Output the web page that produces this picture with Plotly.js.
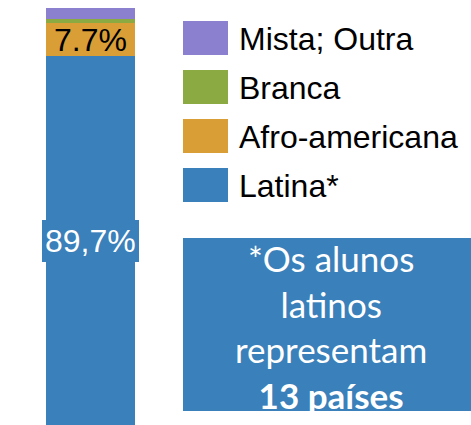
<!DOCTYPE html>
<html>
<head>
<meta charset="utf-8">
<script src="https://cdn.plot.ly/plotly-3.0.1.min.js"></script>
<style>html,body{margin:0;padding:0;background:#fff;}#chart{width:471px;height:425px;}</style>
</head>
<body>
<div id="chart"></div>
<script>
const categories = ['Alunos'];
const seriesNames = ['Latina*', 'Afro-americana', 'Branca', 'Mista; Outra'];
const seriesValues = [89.7, 7.7, 0.9, 2.6];
const seriesLabels = ['89,7%', '7.7%', '', ''];
const seriesColors = ['#3A80BA', '#DA9E37', '#8CAA42', '#8B80D0'];
const noteLines = ['*Os alunos', 'latinos', 'representam', '<b>13 países</b>'];

const W = 471, H = 425, T = 8;
const total = seriesValues.reduce((a, b) => a + b, 0);
const yBottom = 3.7;

const traces = seriesNames.map((name, i) => ({
  type: 'bar',
  name: name,
  x: categories,
  y: [seriesValues[i]],
  marker: { color: seriesColors[i], line: { width: 0 } },
  showlegend: false,
  hoverinfo: 'skip'
}));

const px = v => v / W;
const py = v => (H - v) / (H - T);

const shapes = [];
const annotations = [];

// value labels
let cum = 0;
seriesValues.forEach((v, i) => {
  const lbl = seriesLabels[i];
  if (lbl) {
    const lo = Math.max(cum, yBottom);
    const hi = cum + v;
    const isFirst = i === 0;
    annotations.push({
      x: categories[0], y: (lo + hi) / 2, xref: 'x', yref: 'y',
      text: lbl, showarrow: false,
      font: { family: 'Liberation Sans, Arial, sans-serif', size: 32, color: isFirst ? '#FFFFFF' : '#000000' },
      bgcolor: isFirst ? seriesColors[i] : 'rgba(0,0,0,0)',
      borderwidth: 0,
      borderpad: isFirst ? 3 : 0,
      xanchor: 'center', yanchor: 'middle'
    });
  }
  cum += v;
});

// custom legend (top to bottom reversed order)
const legTop = 21, legStep = 49, sqH = 34;
for (let k = 0; k < seriesNames.length; k++) {
  const i = seriesNames.length - 1 - k;
  const top = legTop + k * legStep;
  shapes.push({
    type: 'rect', xref: 'paper', yref: 'paper',
    x0: px(183), x1: px(228), y0: py(top + sqH), y1: py(top),
    fillcolor: seriesColors[i], line: { width: 0 }
  });
  annotations.push({
    xref: 'paper', yref: 'paper', x: px(237), y: py(top + sqH / 2 + 1),
    xanchor: 'left', yanchor: 'middle', showarrow: false,
    text: seriesNames[i],
    font: { family: 'Liberation Sans, Arial, sans-serif', size: 32, color: '#000000' }
  });
}

// note box
shapes.push({
  type: 'rect', xref: 'paper', yref: 'paper',
  x0: px(183), x1: px(471), y0: py(411), y1: py(238),
  fillcolor: seriesColors[0], line: { width: 0 }
});
annotations.push({
  xref: 'paper', yref: 'paper', x: px(331), y: py(326),
  xanchor: 'center', yanchor: 'middle', showarrow: false, align: 'center',
  text: noteLines.join('<br>'),
  font: { family: 'Lato, Open Sans, sans-serif', size: 35, color: '#FFFFFF' }
});

const layout = {
  width: W, height: H,
  margin: { l: 0, r: 0, t: T, b: 0, pad: 0 },
  paper_bgcolor: '#FFFFFF', plot_bgcolor: '#FFFFFF',
  barmode: 'stack', bargap: 0,
  showlegend: false,
  xaxis: {
    type: 'category', domain: [46 / W, 135 / W], range: [-0.5, 0.5],
    showgrid: false, zeroline: false, showline: false, showticklabels: false, ticks: ''
  },
  yaxis: {
    range: [yBottom, total], showgrid: false, zeroline: false, showline: false,
    showticklabels: false, ticks: ''
  },
  shapes: shapes,
  annotations: annotations
};

Plotly.newPlot('chart', traces, layout, { staticPlot: true, displayModeBar: false });
</script>
</body>
</html>
